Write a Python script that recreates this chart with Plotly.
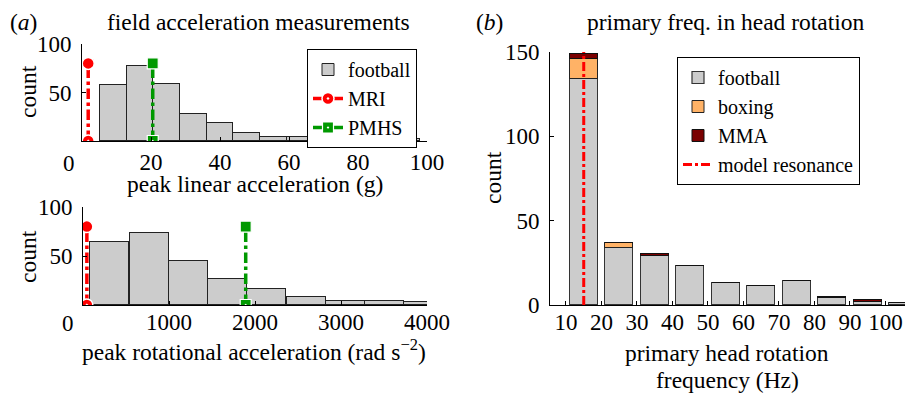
import plotly.graph_objects as go

# ---------------- data ----------------
# (a) top: peak linear acceleration histogram (g)
lin_centers = [9.1, 16.8, 24.5, 32.3, 40.0, 47.7, 55.5, 63.2, 70.9, 78.7, 86.4, 94.1]
lin_counts = [58, 77, 59, 28, 19, 8, 4, 4, 5, 0, 2, 2]
lin_binw = 7.72
mri_lin = 1.8
pmhs_lin = 20.5

# (a) bottom: peak rotational acceleration histogram (rad s^-2)
rot_centers = [305, 770, 1230, 1682, 2137, 2597, 3054, 3510, 3963]
rot_counts = [64, 73, 45, 27, 16, 8, 4, 4, 3]
rot_binw = 456
mri_rot = 45
pmhs_rot = 1892

ref_y = [0, 80]

# (b) primary frequency
freq_centers = [15, 25, 35, 45, 55, 65, 75, 85, 95, 105]
football = [134, 34, 29, 23, 13, 11, 14, 4, 2, 1]
boxing = [12, 3, 0, 0, 0, 0, 0, 0, 0, 0]
mma = [3, 0, 1, 0, 0, 0, 0, 1, 1, 0]
resonance_hz = 15
resonance_y = [0, 150]

lin_ticks = [20, 40, 60, 80, 100]
rot_ticks = [1000, 2000, 3000, 4000]
freq_ticks = [10, 20, 30, 40, 50, 60, 70, 80, 90, 100]

# ---------------- style ----------------
W, H = 905, 394
FONT = "Liberation Serif, Times New Roman, serif"
FS = 23.5      # titles / axis labels
TFS = 23       # tick labels
LFS = 20       # legend
GRAY = "#cccccc"
RED = "#ff0000"
GREEN = "#009900"
ORANGE = "#ffb266"
DARKRED = "#7a0000"

def px(x):
    return x / W

def py(y):
    return 1 - y / H

fig = go.Figure()

# top-left histogram
fig.add_trace(go.Bar(x=lin_centers, y=lin_counts, width=lin_binw, name="football",
                     marker=dict(color=GRAY, line=dict(color="#222222", width=1)),
                     xaxis="x", yaxis="y", legend="legend"))
fig.add_trace(go.Scatter(x=[mri_lin, mri_lin], y=ref_y, mode="lines+markers", name="MRI",
                         line=dict(color=RED, width=3.5, dash="dashdot"),
                         marker=dict(symbol=["circle-dot", "circle"], size=12, color=RED,
                                     line=dict(color="white", width=1.5)),
                         xaxis="x", yaxis="y", legend="legend"))
fig.add_trace(go.Scatter(x=[pmhs_lin, pmhs_lin], y=ref_y, mode="lines+markers", name="PMHS",
                         line=dict(color=GREEN, width=3.5, dash="dashdot"),
                         marker=dict(symbol=["square-dot", "square"], size=11, color=GREEN,
                                     line=dict(color="white", width=1.2)),
                         xaxis="x", yaxis="y", legend="legend"))

# bottom-left histogram
fig.add_trace(go.Bar(x=rot_centers, y=rot_counts, width=rot_binw, showlegend=False,
                     marker=dict(color=GRAY, line=dict(color="#222222", width=1)),
                     xaxis="x2", yaxis="y2"))
fig.add_trace(go.Scatter(x=[mri_rot, mri_rot], y=ref_y, mode="lines+markers", showlegend=False,
                         line=dict(color=RED, width=3.5, dash="dashdot"),
                         marker=dict(symbol=["circle-dot", "circle"], size=12, color=RED,
                                     line=dict(color="white", width=1.5)),
                         xaxis="x2", yaxis="y2"))
fig.add_trace(go.Scatter(x=[pmhs_rot, pmhs_rot], y=ref_y, mode="lines+markers", showlegend=False,
                         line=dict(color=GREEN, width=3.5, dash="dashdot"),
                         marker=dict(symbol=["square-dot", "square"], size=11, color=GREEN,
                                     line=dict(color="white", width=1.2)),
                         xaxis="x2", yaxis="y2"))

# right stacked histogram
fig.add_trace(go.Bar(x=freq_centers, y=football, width=8, name="football",
                     marker=dict(color=GRAY, line=dict(color="#333333", width=1.2)),
                     xaxis="x3", yaxis="y3", legend="legend2"))
fig.add_trace(go.Bar(x=freq_centers, y=boxing, width=8, name="boxing",
                     marker=dict(color=ORANGE, line=dict(color="#222222", width=1)),
                     xaxis="x3", yaxis="y3", legend="legend2"))
fig.add_trace(go.Bar(x=freq_centers, y=mma, width=8, name="MMA",
                     marker=dict(color=DARKRED, line=dict(color="#111111", width=1)),
                     xaxis="x3", yaxis="y3", legend="legend2"))
fig.add_trace(go.Scatter(x=[resonance_hz, resonance_hz], y=resonance_y, mode="lines",
                         name="model resonance",
                         line=dict(color=RED, width=3, dash="dashdot"),
                         xaxis="x3", yaxis="y3", legend="legend2"))

axis_common = dict(showline=True, linecolor="black", linewidth=1, ticks="inside",
                   ticklen=4, tickcolor="black", showgrid=False, zeroline=False,
                   automargin=False,
                   tickfont=dict(family=FONT, size=TFS, color="black"))

fig.update_layout(
    width=W, height=H, margin=dict(l=0, r=0, t=0, b=0, pad=0, autoexpand=False),
    paper_bgcolor="white", plot_bgcolor="white",
    barmode="stack", bargap=0,
    font=dict(family=FONT, size=FS, color="black"),
    xaxis=dict(domain=[px(82), px(427)], range=[0, 100], tickvals=lin_ticks,
               anchor="y", ticklabelstandoff=0, **axis_common),
    yaxis=dict(domain=[py(141), py(44)], range=[0, 100], tickvals=[50, 100],
               anchor="x", ticklabelstandoff=5, **axis_common),
    xaxis2=dict(domain=[px(83), px(427)], range=[0, 4000], tickvals=rot_ticks,
                anchor="y2", ticklabelstandoff=-4, **axis_common),
    yaxis2=dict(domain=[py(305), py(207)], range=[0, 100], tickvals=[50, 100],
                anchor="x2", ticklabelstandoff=5, **axis_common),
    xaxis3=dict(domain=[px(550), 1.0], range=[5.5, 105.5], tickvals=freq_ticks,
                anchor="y3", ticklabelstandoff=-4, **axis_common),
    yaxis3=dict(domain=[py(305), py(52)], range=[0, 150], tickvals=[0, 50, 100, 150],
                anchor="x3", ticklabelstandoff=5, **axis_common),
    legend=dict(x=px(307), y=py(49), xanchor="left", yanchor="top",
                bordercolor="black", borderwidth=1, bgcolor="white",
                font=dict(family=FONT, size=LFS), tracegroupgap=0, traceorder="normal"),
    legend2=dict(x=px(677), y=py(57), xanchor="left", yanchor="top",
                 bordercolor="black", borderwidth=1, bgcolor="white",
                 font=dict(family=FONT, size=LFS), tracegroupgap=0, traceorder="normal"),
)

def ann(text, x, y, angle=0, size=FS, xanchor="center"):
    fig.add_annotation(text=text, x=px(x), y=py(y), xref="paper", yref="paper",
                       showarrow=False, textangle=angle, xanchor=xanchor, yanchor="middle",
                       font=dict(family=FONT, size=size, color="black"))

ann("(<i>a</i>)", 23, 22)
ann("field acceleration measurements", 258, 22)
ann("(<i>b</i>)", 490, 22)
ann("primary freq. in head rotation", 726, 22)
ann("count", 28, 92, angle=-90)
ann("count", 28, 257, angle=-90)
ann("count", 493, 178, angle=-90)
ann("0", 69, 163, size=TFS)
ann("0", 68, 323, size=TFS)
ann("peak linear acceleration (g)", 255, 184)
ann("peak rotational acceleration (rad s<sup>−2</sup>)", 254, 350)
ann("primary head rotation", 727, 353)
ann("frequency (Hz)", 727, 380)

fig.write_html("out.html",
               config={"displayModeBar": False},
               post_script="document.body.style.margin='0';document.body.style.overflow='hidden';")
